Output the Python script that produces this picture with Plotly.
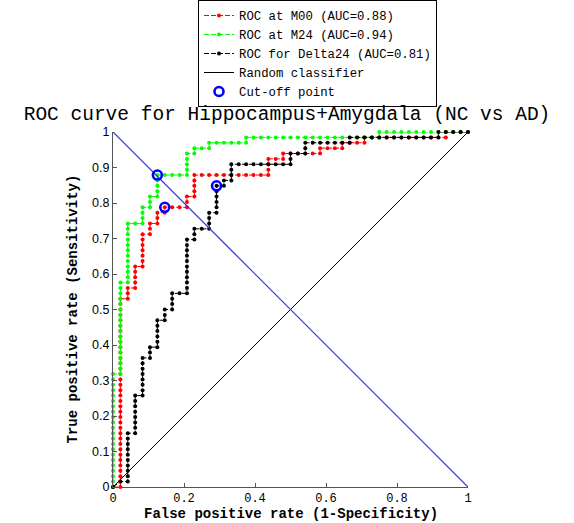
import plotly.graph_objects as go

# ROC staircases stored as corner points in sample counts
N_NEG = 48   # negatives (false-positive steps)
N_POS = 66   # positive-rate steps

m00_fp = [0, 1, 1, 2, 2, 3, 3, 4, 4, 5, 5, 6, 6, 7, 7, 10, 10, 11, 11, 21, 21, 23, 23, 28, 28, 31, 31, 34, 34, 45, 45, 48]
m00_tp = [0, 0, 35, 35, 37, 37, 41, 41, 47, 47, 49, 49, 51, 51, 52, 52, 54, 54, 58, 58, 61, 61, 62, 62, 63, 63, 64, 64, 65, 65, 66, 66]

m24_fp = [0, 0, 1, 1, 2, 2, 4, 4, 5, 5, 6, 6, 10, 10, 11, 11, 13, 13, 18, 18, 36, 36, 48]
m24_tp = [0, 21, 21, 38, 38, 49, 49, 52, 52, 54, 54, 58, 58, 62, 62, 63, 63, 64, 64, 65, 65, 66, 66]

d24_fp = [0, 1, 2, 2, 3, 3, 4, 4, 5, 5, 6, 6, 7, 7, 8, 8, 10, 10, 11, 11, 13, 13, 14, 14, 15, 15, 16, 16, 24, 24, 26, 26, 32, 32, 44, 44, 48]
d24_tp = [0, 1, 1, 10, 10, 17, 17, 24, 24, 26, 26, 31, 31, 33, 33, 36, 36, 46, 46, 48, 48, 51, 51, 56, 56, 57, 57, 60, 60, 62, 62, 64, 64, 65, 65, 66, 66]

# optimal operating points (M00, M24, Delta24)
cut_fp = [7, 6, 14]
cut_tp = [52, 58, 56]

names = ["ROC at M00 (AUC=0.88)", "ROC at M24 (AUC=0.94)", "ROC for Delta24 (AUC=0.81)"]
colors = ["#ff0000", "#00ff00", "#000000"]

MONO = "Liberation Mono, Courier New, monospace"
SANS = "Liberation Sans, Arial, sans-serif"


def threshold_points(fp, tp):
    """Walk the staircase one sample at a time (one ROC point per threshold)."""
    xs, ys = [fp[0]], [tp[0]]
    for (x0, y0), (x1, y1) in zip(zip(fp, tp), zip(fp[1:], tp[1:])):
        if x1 != x0 and y1 != y0:
            xs.append(x1); ys.append(y1)
            continue
        n = max(abs(x1 - x0), abs(y1 - y0))
        for k in range(1, n + 1):
            xs.append(x0 + (x1 - x0) * k // n)
            ys.append(y0 + (y1 - y0) * k // n)
    return [x / N_NEG for x in xs], [y / N_POS for y in ys]


fig = go.Figure()

for fp, tp, name, col in zip([m00_fp, m24_fp, d24_fp], [m00_tp, m24_tp, d24_tp], names, colors):
    xs, ys = threshold_points(fp, tp)
    fig.add_trace(go.Scatter(
        x=xs, y=ys, name=name, mode="lines+markers",
        line=dict(color=col, width=1, dash="5px,2px"),
        marker=dict(color=col, size=4),
        cliponaxis=False,
    ))

fig.add_trace(go.Scatter(
    x=[0, 1], y=[0, 1], name="Random classifier", mode="lines",
    line=dict(color="black", width=1), cliponaxis=False,
))

fig.add_trace(go.Scatter(
    x=[0, 1], y=[1, 0], mode="lines", showlegend=False,
    line=dict(color="#2a2aff", width=1.2), cliponaxis=False,
))

fig.add_trace(go.Scatter(
    x=[v / N_NEG for v in cut_fp], y=[v / N_POS for v in cut_tp],
    name="Cut-off point", mode="markers",
    marker=dict(symbol="circle-open", size=9, color="#0000ff", line=dict(width=2.6, color="#0000ff")),
    cliponaxis=False,
))

AXIS_TITLE_FONT = dict(family=MONO, size=14, color="black", weight="bold")

fig.update_layout(
    width=574, height=523,
    margin=dict(l=113, r=106, t=132, b=36, autoexpand=False),
    plot_bgcolor="white", paper_bgcolor="white",
    title=dict(
        text="ROC curve for Hippocampus+Amygdala (NC vs AD)",
        font=dict(family=MONO, size=19.5, color="black"),
        x=0.5, xref="container", xanchor="center",
        y=1 - 113 / 523, yref="container", yanchor="middle",
    ),
    legend=dict(
        font=dict(family=MONO, size=12.3, color="black"),
        bordercolor="black", borderwidth=1, bgcolor="white",
        x=198 / 574, xref="container", xanchor="left",
        y=1.0, yref="container", yanchor="top",
        itemwidth=30, tracegroupgap=0,
    ),
    showlegend=True,
    annotations=[
        dict(text="False positive rate (1-Specificity)", font=AXIS_TITLE_FONT,
             xref="paper", yref="paper", x=0.5, y=-(514 - 487) / 355,
             xanchor="center", yanchor="middle", showarrow=False),
        dict(text="True positive rate (Sensitivity)", font=AXIS_TITLE_FONT,
             xref="paper", yref="paper", x=-(113 - 72) / 355, y=0.5, textangle=-90,
             xanchor="center", yanchor="middle", showarrow=False),
    ],
)

fig.update_xaxes(
    range=[0, 1], tickvals=[0, 0.2, 0.4, 0.6, 0.8, 1],
    ticktext=["0", "0.2", "0.4", "0.6", "0.8", "1"],
    ticks="inside", ticklen=4, tickcolor="#555", showline=True, linecolor="#555", linewidth=1,
    showgrid=False, zeroline=False, automargin=False,
    tickfont=dict(family=MONO, size=12, color="black"),
)
fig.update_yaxes(
    range=[0, 1], tickvals=[i / 10 for i in range(11)],
    ticktext=["0", "0.1", "0.2", "0.3", "0.4", "0.5", "0.6", "0.7", "0.8", "0.9", "1"],
    ticks="inside", ticklen=4, tickcolor="#555", showline=True, linecolor="#555", linewidth=1,
    showgrid=False, zeroline=False, automargin=False,
    tickfont=dict(family=SANS, size=12.5, color="black"),
)

fig.write_html("out.html")
